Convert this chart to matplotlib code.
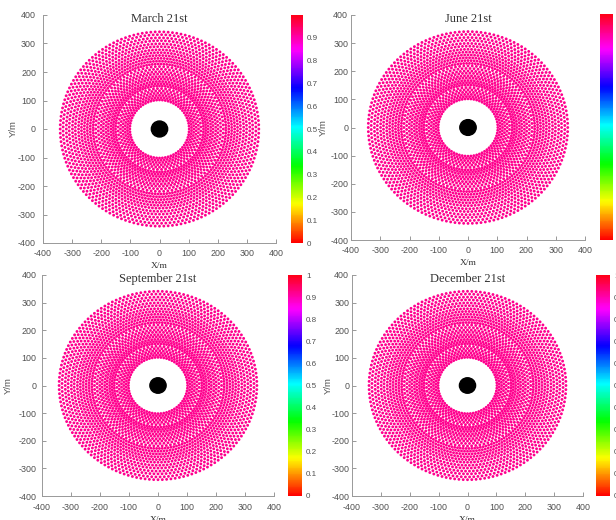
import numpy as np
import matplotlib
matplotlib.use("Agg")
import matplotlib.pyplot as plt
from matplotlib.patches import Circle

plt.rcParams["axes.unicode_minus"] = False

# ---- data ----
titles = ["March 21st", "June 21st", "September 21st", "December 21st"]
# radial-staggered heliostat field: ring radii (m) and heliostats per ring
ring_radii = [102, 110, 118, 126, 134, 142,
              151, 159, 167, 176, 184, 193, 201, 210, 219,
              228, 238, 248, 258, 268, 278, 289, 299, 310, 320, 331, 341]
ring_counts = [64, 64, 64, 64, 64, 64,
               96, 96, 96, 96, 96, 96, 96, 96, 96,
               144, 144, 144, 144, 144, 144, 144, 144, 144, 144, 144, 144]
efficiency = [0.92, 0.92, 0.92, 0.92]      # optical efficiency per date
tower_xy = (0.0, 0.0)
tower_radius = 28.0
axis_ticks = [-400, -300, -200, -100, 0, 100, 200, 300, 400]
cbar_ticks = [0, 0.1, 0.2, 0.3, 0.4, 0.5, 0.6, 0.7, 0.8, 0.9, 1.0]
cbar_ticks_first = [0, 0.1, 0.2, 0.3, 0.4, 0.5, 0.6, 0.7, 0.8, 0.9]

# heliostat coordinates from the ring layout (staggered alternating rings)
xs, ys = [], []
for i, (r, n) in enumerate(zip(ring_radii, ring_counts)):
    off = 0.5 if i % 2 else 0.0
    th = 2 * np.pi * (np.arange(n) + off) / n
    xs.append(r * np.cos(th))
    ys.append(r * np.sin(th))
hx = np.concatenate(xs)
hy = np.concatenate(ys)

W, H = 616, 520
fig = plt.figure(figsize=(W / 100, H / 100), dpi=100)
fig.patch.set_facecolor("white")

def rect(l, r, t, b):
    return [l / W, 1 - b / H, (r - l) / W, (b - t) / H]

axes_px = [(43, 276, 15, 243), (351, 585, 15, 240),
           (42, 274, 275, 496), (352, 583, 275, 496)]
cbar_px = [(291, 303, 15, 243), (600, 613, 14, 240),
           (288, 302, 275, 496), (596, 610, 275, 496)]
ylabel_x = [-0.107, -0.100, -0.125, -0.085]
ytick_pad = [5, 2, 4, 2]

cmap = plt.get_cmap("hsv")
norm = matplotlib.colors.Normalize(0, 1)
sans = "Liberation Sans"
serif = "Liberation Serif"
gray = "#505050"

for k in range(4):
    ax = fig.add_axes(rect(*axes_px[k]))
    vals = np.full(hx.shape, efficiency[k])
    sc = ax.scatter(hx, hy, c=vals, cmap=cmap, norm=norm, s=4.2,
                    linewidths=0, zorder=2)
    ax.add_patch(Circle(tower_xy, tower_radius, color="black", zorder=3))
    ax.set_xlim(-400, 400)
    ax.set_ylim(-400, 400)
    ax.set_xticks(axis_ticks)
    ax.set_yticks(axis_ticks)
    ax.tick_params(direction="in", length=3, width=0.6, color="#888888",
                   labelsize=6.4, labelcolor=gray)
    ax.tick_params(axis="y", pad=ytick_pad[k])
    ax.tick_params(axis="x", pad=5 if k >= 2 else 4)
    for lab in ax.get_xticklabels() + ax.get_yticklabels():
        lab.set_family(sans)
    for s in ["top", "right"]:
        ax.spines[s].set_visible(False)
    for s in ["left", "bottom"]:
        ax.spines[s].set_color("#999999")
        ax.spines[s].set_linewidth(0.7)
    ax.set_xlabel("X/m", fontsize=6.8, family=serif, color="#333333", labelpad=3)
    ax.set_ylabel("Y/m", fontsize=6.8, family=sans, color=gray)
    ax.yaxis.set_label_coords(ylabel_x[k], 0.5)
    ax.text(0.5, 0.982, titles[k], transform=ax.transAxes, ha="center",
            va="center", fontsize=9, family=serif, color="#333333")

    cax = fig.add_axes(rect(*cbar_px[k]))
    cb = fig.colorbar(sc, cax=cax)
    cb.outline.set_visible(False)
    tk = cbar_ticks_first if k == 0 else cbar_ticks
    cb.set_ticks(tk)
    cb.set_ticklabels([f"{t:g}" for t in tk])
    cax.tick_params(length=0, labelsize=5.8, labelcolor=gray, pad=3)
    for lab in cax.get_yticklabels():
        lab.set_family(sans)

fig.savefig("out.png", dpi=100)
